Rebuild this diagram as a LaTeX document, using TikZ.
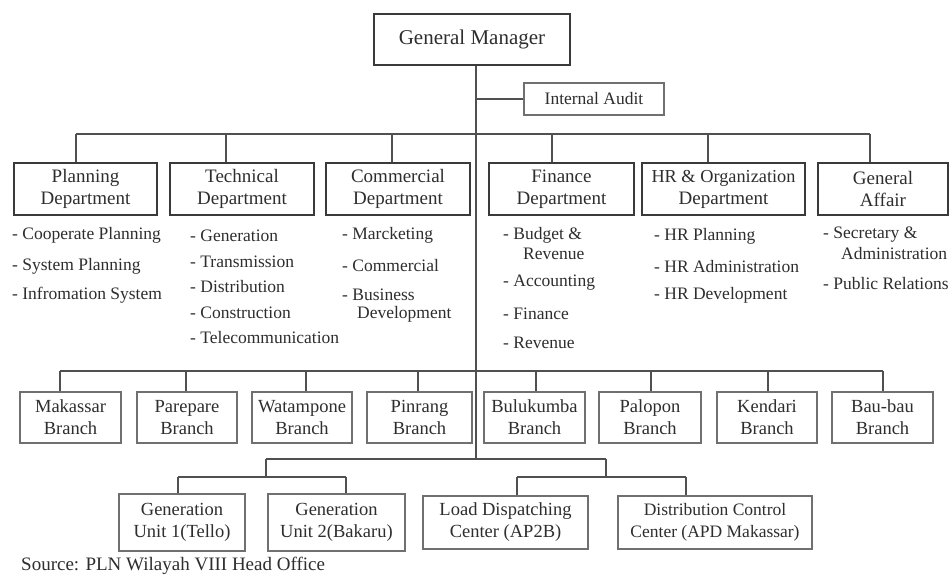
\documentclass[tikz,border=0pt]{standalone}
\usepackage{fontspec}
\setmainfont{Liberation Serif}
\definecolor{ink}{HTML}{2E2E2E}
\definecolor{boxdark}{HTML}{3A3A3A}
\definecolor{boxlight}{HTML}{707070}
\definecolor{linkgray}{HTML}{505050}
\begin{document}
\begin{tikzpicture}[x=1pt,y=-1pt,
  heavybox/.style={draw=boxdark, line width=2.4pt, inner sep=0pt, align=center, text=ink},
  lightbox/.style={draw=boxlight, line width=1.3pt, inner sep=0pt, align=center, text=ink},
  link/.style={draw=linkgray, line width=1.4pt},
  item/.style={anchor=west, inner sep=0pt, text=ink, font=\fontsize{17.5}{20}\selectfont},
  deptfont/.style={font=\fontsize{19}{22}\selectfont},
  brfont/.style={font=\fontsize{18.5}{22}\selectfont},
]
\fill[white] (0,0) rectangle (951,576);
\useasboundingbox (0,0) rectangle (951,576);

% top of the hierarchy
\node[heavybox, minimum width=196pt, minimum height=51pt, font=\fontsize{21}{24}\selectfont] (gm) at (472,39.5) {General Manager};
\node[lightbox, minimum width=140pt, minimum height=32pt, font=\fontsize{17.5}{20}\selectfont] (ia) at (594,99) {Internal Audit};

% departments
\node[heavybox, deptfont, minimum width=143pt, minimum height=52pt] (plan) at (85.5,189) {Planning\\Department};
\node[heavybox, deptfont, minimum width=144pt, minimum height=52pt] (tech) at (242,189) {Technical\\Department};
\node[heavybox, deptfont, minimum width=144pt, minimum height=52pt] (comm) at (398,189) {Commercial\\Department};
\node[heavybox, deptfont, minimum width=145pt, minimum height=52pt] (fin) at (561.5,189) {Finance\\Department};
\node[heavybox, deptfont, minimum width=163pt, minimum height=52pt] (hr) at (723.5,189) {\fontsize{18.3}{22}\selectfont HR \& Organization\\Department};
\node[heavybox, deptfont, minimum width=130pt, minimum height=52pt] (ga) at (883,189) {General\\Affair};

% department duties
\node[item] (p1) at (12,235) {- Cooperate Planning};
\node[item] (p2) at (12,266) {- System Planning};
\node[item] (p3) at (12,295) {- Infromation System};

\node[item] (t1) at (190,236) {- Generation};
\node[item] (t2) at (190,262) {- Transmission};
\node[item] (t3) at (190,287) {- Distribution};
\node[item] (t4) at (190,313) {- Construction};
\node[item] (t5) at (190,338) {- Telecommunication};

\node[item] (c1) at (342,235) {- Marcketing};
\node[item] (c2) at (342,266) {- Commercial};
\node[item] (c3) at (342,295) {- Business};
\node[item] (c3b) at (357,314) {Development};

\node[item] (f1) at (503,235) {- Budget \&};
\node[item] (f1b) at (523,254) {Revenue};
\node[item] (f2) at (503,283) {- Accounting};
\node[item] (f3) at (503,314) {- Finance};
\node[item] (f4) at (503,343) {- Revenue};

\node[item] (h1) at (654,236) {- HR Planning};
\node[item] (h2) at (654,267) {- HR Administration};
\node[item] (h3) at (654,295) {- HR Development};

\node[item] (g1) at (823,235) {- Secretary \&};
\node[item] (g1b) at (841,254) {Administration};
\node[item] (g2) at (823,284) {- Public Relations};

% branches
\node[lightbox, brfont, minimum width=101pt, minimum height=51pt] (mak) at (70.5,417.5) {Makassar\\Branch};
\node[lightbox, brfont, minimum width=100pt, minimum height=51pt] (par) at (187,417.5) {Parepare\\Branch};
\node[lightbox, brfont, minimum width=100pt, minimum height=51pt] (wat) at (302,417.5) {Watampone\\Branch};
\node[lightbox, brfont, minimum width=105pt, minimum height=51pt] (pin) at (419.5,417.5) {Pinrang\\Branch};
\node[lightbox, brfont, minimum width=101pt, minimum height=51pt] (bul) at (534.5,417.5) {Bulukumba\\Branch};
\node[lightbox, brfont, minimum width=102pt, minimum height=51pt] (pal) at (650,417.5) {Palopon\\Branch};
\node[lightbox, brfont, minimum width=100pt, minimum height=51pt] (ken) at (767,417.5) {Kendari\\Branch};
\node[lightbox, brfont, minimum width=101pt, minimum height=51pt] (bau) at (882.5,417.5) {Bau-bau\\Branch};

% generation and control units
\node[lightbox, brfont, minimum width=126pt, minimum height=57pt] (gen1) at (182,522.5) {Generation\\Unit 1(Tello)};
\node[lightbox, brfont, minimum width=137pt, minimum height=57pt] (gen2) at (336.5,522.5) {Generation\\Unit 2(Bakaru)};
\node[lightbox, brfont, minimum width=165pt, minimum height=53pt] (ldc) at (505.5,522.5) {Load Dispatching\\Center (AP2B)};
\node[lightbox, font=\fontsize{17.5}{22}\selectfont, minimum width=194pt, minimum height=53pt] (dcc) at (715,522.5) {Distribution Control\\Center (APD Makassar)};

\node[anchor=west, inner sep=0pt, text=ink, font=\fontsize{19}{22}\selectfont] (src) at (21,566) {Source: PLN Wilayah VIII Head Office};

% junction points
\coordinate (spine) at (476,459);
\coordinate (iaj) at (476,99);
\coordinate (d1) at (76,134);
\coordinate (d2) at (226,134);
\coordinate (d3) at (392,134);
\coordinate (d4) at (552,134);
\coordinate (d5) at (708,134);
\coordinate (d6) at (870,134);
\coordinate (b1) at (60,371);
\coordinate (b2) at (186,371);
\coordinate (b3) at (306,371);
\coordinate (b4) at (418,371);
\coordinate (b5) at (536,371);
\coordinate (b6) at (651,371);
\coordinate (b7) at (768,371);
\coordinate (b8) at (883,371);
\coordinate (l0) at (266,459);
\coordinate (r0) at (606,459);
\coordinate (lj) at (266,477);
\coordinate (rj) at (606,477);
\coordinate (u1) at (178,477);
\coordinate (u2) at (346,477);
\coordinate (u3) at (517,477);
\coordinate (u4) at (686,477);

% connectors
\draw[link] (gm.south -| spine) -- (spine);
\draw[link] (iaj) -- (ia.west);
\draw[link] (d1) -- (d6);
\foreach \d/\n in {d1/plan,d2/tech,d3/comm,d4/fin,d5/hr,d6/ga}
  \draw[link] (\d) -- (\d |- \n.north);
\draw[link] (b1) -- (b8);
\foreach \b/\n in {b1/mak,b2/par,b3/wat,b4/pin,b5/bul,b6/pal,b7/ken,b8/bau}
  \draw[link] (\b) -- (\b |- \n.north);
\draw[link] (l0) -- (r0);
\draw[link] (l0) -- (lj);
\draw[link] (r0) -- (rj);
\draw[link] (u1) -- (u2);
\draw[link] (u3) -- (u4);
\foreach \u/\n in {u1/gen1,u2/gen2,u3/ldc,u4/dcc}
  \draw[link] (\u) -- (\u |- \n.north);
\end{tikzpicture}
\end{document}
